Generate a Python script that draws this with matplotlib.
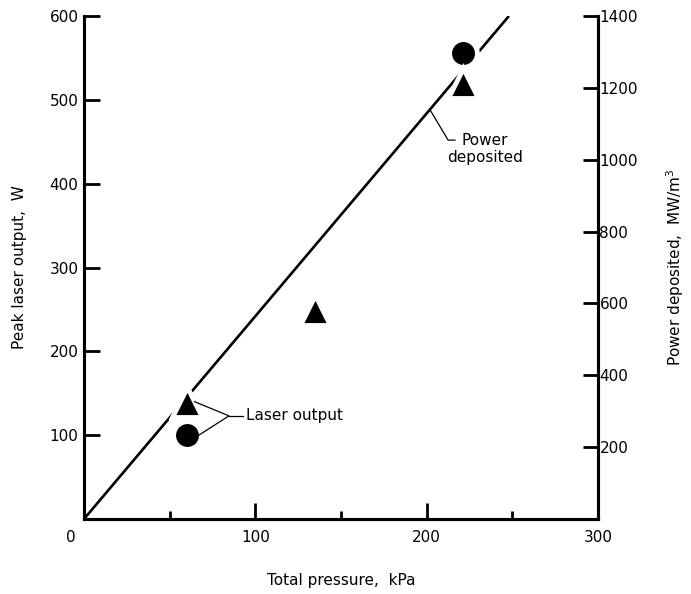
import matplotlib.pyplot as plt
import matplotlib.transforms as mtransforms
from matplotlib.ticker import MultipleLocator

plt.rcParams['font.family'] = ['Liberation Sans Narrow', 'DejaVu Sans']
plt.rcParams['font.size'] = 11

# data
pressure_circle = [60, 221]
laser_circle = [100, 556]
pressure_tri = [60, 135, 221]
laser_tri = [140, 249, 520]
line_pressure = [0, 248]
line_power = [0, 1400]

fig = plt.figure(figsize=(6.91, 5.94), dpi=100)
ax = fig.add_axes([0.1216, 0.1263, 0.7438, 0.8467])
ax2 = ax.twinx()

# line for power deposited (right axis), markers on top with white halo
ax2.plot(line_pressure, line_power, color='black', linewidth=1.9, solid_capstyle='butt')
ax.plot(pressure_circle, laser_circle, 'o', color='black', markersize=20,
        markeredgecolor='white', markeredgewidth=3.5, linestyle='none')
ax.plot(pressure_tri, laser_tri, '^', color='black', markersize=21,
        markeredgecolor='white', markeredgewidth=3.5, linestyle='none')
ax.set_zorder(ax2.get_zorder() + 1)
ax.patch.set_visible(False)

ax.set_xlim(0, 300)
ax.set_ylim(0, 600)
ax2.set_ylim(0, 1400)

for a in (ax, ax2):
    a.spines['top'].set_visible(False)
    for s in a.spines.values():
        s.set_linewidth(2.2)

ax.set_xticks([0, 100, 200, 300])
ax.xaxis.set_minor_locator(MultipleLocator(50))
ax.set_yticks([100, 200, 300, 400, 500, 600])
ax2.set_yticks([200, 400, 600, 800, 1000, 1200, 1400])

ax.tick_params(axis='x', which='major', direction='in', length=11.5, width=2, pad=8)
ax.tick_params(axis='x', which='minor', direction='in', length=6, width=2)
ax.tick_params(axis='y', direction='in', length=11.5, width=2, pad=4)
ax2.tick_params(axis='y', direction='in', length=11, width=2, pad=1)
zero_lbl = ax.get_xticklabels()[0]
zero_lbl.set_transform(zero_lbl.get_transform() +
                       mtransforms.ScaledTranslation(-0.13, 0, fig.dpi_scale_trans))

ax.set_xlabel('Total pressure,  kPa', labelpad=20)
ax.set_ylabel('Peak laser output,  W', labelpad=16)
ax2.set_ylabel('Power deposited,  MW/m$^3$', labelpad=19)

# leader for "Power deposited"
ax.plot([202, 212.5, 216.5], [488, 452, 452], color='black', linewidth=0.9)
ax.text(234, 441, 'Power\ndeposited', ha='center', va='center', linespacing=1.15)

# leaders for "Laser output"
ax.plot([64.5, 84.6, 67], [140, 123, 100], color='black', linewidth=0.9)
ax.plot([84.6, 93], [123, 123], color='black', linewidth=0.9)
ax.text(94.5, 123, 'Laser output', ha='left', va='center')

fig.savefig('out.png', dpi=100)
